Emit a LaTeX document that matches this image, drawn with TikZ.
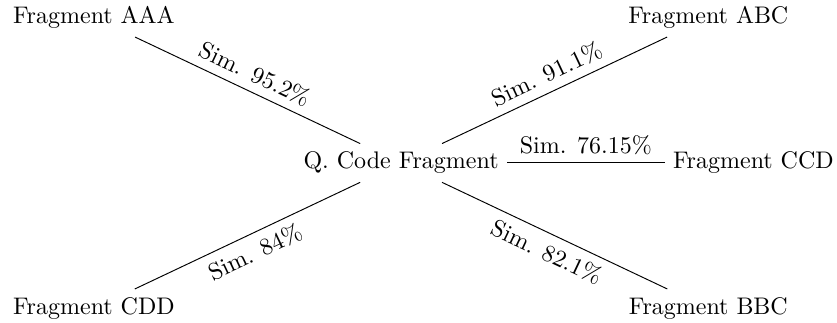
\documentclass[tikz,border=0pt]{standalone}
\usepackage{amsmath}
\usetikzlibrary{positioning}
\tikzset{%
	fragment/.style = {inner sep=3.33pt},
	simlabel/.style = {sloped, midway},
}

\begin{document}
\begin{tikzpicture}
	\useasboundingbox (-5.875,-2.33) rectangle (6.385,2.387);
	
	\node[fragment] (query) at (0,0) {Q. Code Fragment};
	\node[fragment] (aaa) at (-4.5,2.13) {Fragment AAA};
	\node[fragment] (abc) at (4.5,2.13) {Fragment ABC};
	\node[fragment] (ccd) at (5.16,0) {Fragment CCD};
	\node[fragment] (cdd) at (-4.5,-2.13) {Fragment CDD};
	\node[fragment] (bbc) at (4.5,-2.13) {Fragment BBC};
	
	\draw (aaa) -- node[simlabel,above] {Sim. 95.2\%} (query);
	\draw (query) -- node[simlabel,above] {Sim. 91.1\%} (abc);
	\draw (query) -- node[simlabel,above] {Sim. 76.15\%} (ccd);
	\draw (cdd) -- node[simlabel,below] {Sim. 84\%} (query);
	\draw (query) -- node[simlabel,below] {Sim. 82.1\%} (bbc);
\end{tikzpicture}
\end{document}
